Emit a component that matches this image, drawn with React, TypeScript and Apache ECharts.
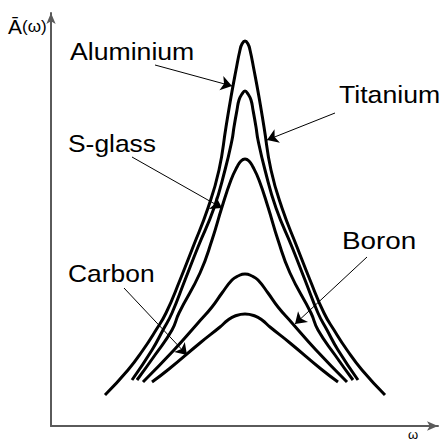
import React, { useEffect, useRef } from "react";
import * as echarts from "echarts";

// Data units: ω along the horizontal axis, Ā(ω) along the vertical axis (arbitrary units)
const OMEGA_AL = [54, 77, 92, 105, 115, 129, 142, 157, 168, 175, 180, 185, 189, 191, 194, 197, 199, 203, 208, 213, 220, 231, 246, 259, 273, 283, 296, 311, 334];
const AMP_AL = [31, 56, 76, 96, 113, 146, 179, 218, 256, 299, 329, 356, 376, 382, 385, 382, 376, 356, 329, 299, 256, 218, 179, 146, 113, 96, 76, 56, 31];

const OMEGA_TI = [81, 101, 112, 121, 134, 147, 163, 174, 181, 183, 186, 188, 191, 194, 197, 200, 202, 205, 207, 214, 225, 241, 254, 267, 276, 287, 307];
const AMP_TI = [46, 76, 96, 113, 146, 179, 218, 256, 286, 299, 316, 326, 332, 335, 332, 326, 316, 299, 286, 256, 218, 179, 146, 113, 96, 76, 46];

const OMEGA_SG = [86, 104, 121, 128, 149, 161, 171, 180, 186, 190, 194, 198, 202, 208, 217, 227, 239, 260, 267, 284, 302];
const AMP_SG = [46, 71, 96, 113, 153, 186, 219, 246, 259, 265, 267, 265, 259, 246, 219, 186, 153, 113, 96, 71, 46];

const OMEGA_B = [92, 123, 147, 161, 171, 181, 187, 194, 201, 207, 217, 227, 241, 265, 296];
const AMP_B = [44, 76, 103, 119, 133, 146, 150, 152, 150, 146, 133, 119, 103, 76, 44];

const OMEGA_C = [101, 118, 149, 169, 177, 184, 194, 204, 211, 219, 239, 270, 287];
const AMP_C = [44, 57, 83, 99, 106, 110, 112, 110, 106, 99, 83, 57, 44];

const MATERIALS = ["Aluminium", "Titanium", "S-glass", "Boron", "Carbon"];

// Annotation layout (label pixel position, pointer start/end in data units)
const LABEL_POS = [
  { x: 70, y: 59 },
  { x: 339, y: 102 },
  { x: 68, y: 151 },
  { x: 342, y: 249 },
  { x: 68, y: 281 },
];
const LABEL_SCALE = [1.11, 1.11, 1.1, 1.16, 1.1];
const POINTERS = [
  [[104, 361], [181, 340]],
  [[284, 313], [216, 286]],
  [[81, 269], [171, 218]],
  [[316, 169], [244, 102]],
  [[73, 138], [136, 71]],
];

const zip = (xs: number[], ys: number[]) => xs.map((x, i) => [x, ys[i]]);

export default function App() {
  const ref = useRef<HTMLDivElement>(null);
  useEffect(() => {
    if (!ref.current) return;
    const chart = echarts.init(ref.current, null, { renderer: "svg" });
    const curves = [
      zip(OMEGA_AL, AMP_AL),
      zip(OMEGA_TI, AMP_TI),
      zip(OMEGA_SG, AMP_SG),
      zip(OMEGA_B, AMP_B),
      zip(OMEGA_C, AMP_C),
    ];
    const font = "'Liberation Sans', Arial, Helvetica, sans-serif";
    const axisColor = "#5a5a5a";
    chart.setOption({
      animation: false,
      backgroundColor: "#ffffff",
      grid: { left: 51, top: 13, right: 4, bottom: 17, containLabel: false },
      xAxis: {
        type: "value",
        min: 0,
        max: 387,
        axisLine: {
          show: true,
          onZero: false,
          symbol: ["none", "arrow"],
          symbolSize: [7, 11],
          lineStyle: { color: axisColor, width: 2 },
        },
        axisTick: { show: false },
        axisLabel: { show: false },
        splitLine: { show: false },
      },
      yAxis: {
        type: "value",
        min: 0,
        max: 413,
        axisLine: {
          show: true,
          onZero: false,
          symbol: ["none", "arrow"],
          symbolSize: [7, 11],
          lineStyle: { color: axisColor, width: 2 },
        },
        axisTick: { show: false },
        axisLabel: { show: false },
        splitLine: { show: false },
      },
      series: [
        ...curves.map((d, i) => ({
          name: MATERIALS[i],
          type: "line",
          data: d,
          smooth: true,
          showSymbol: false,
          symbol: "none",
          lineStyle: { color: "#000", width: 3 },
          z: 3,
        })),
        {
          type: "lines",
          coordinateSystem: "cartesian2d",
          symbol: ["none", "arrow"],
          symbolSize: [7, 11],
          lineStyle: { color: "#000", width: 1, opacity: 1 },
          data: POINTERS.map((c) => ({ coords: c })),
          z: 4,
        },
      ],
      graphic: [
        ...MATERIALS.map((m, i) => ({
          type: "text",
          x: LABEL_POS[i].x,
          y: LABEL_POS[i].y - 8,
          scaleX: LABEL_SCALE[i],
          style: {
            text: m,
            fill: "#000",
            font: `24px ${font}`,
            textAlign: "left",
            textVerticalAlign: "middle",
          },
        })),
        {
          type: "text",
          x: 8,
          y: 26,
          style: {
            text: "{a|Ā}{b|(ω)}",
            fill: "#000",
            textVerticalAlign: "middle",
            rich: {
              a: { fontSize: 21, fontFamily: font, fill: "#000" },
              b: { fontSize: 17, fontFamily: font, fill: "#000" },
            },
          },
        },
        {
          type: "text",
          x: 413,
          y: 434,
          style: {
            text: "ω",
            fill: "#000",
            font: `13px ${font}`,
            textAlign: "center",
            textVerticalAlign: "middle",
          },
        },
      ],
    });
    return () => chart.dispose();
  }, []);
  return (
    <div
      ref={ref}
      style={{ position: "fixed", left: 0, top: 0, width: 442, height: 443, background: "#fff" }}
    />
  );
}
